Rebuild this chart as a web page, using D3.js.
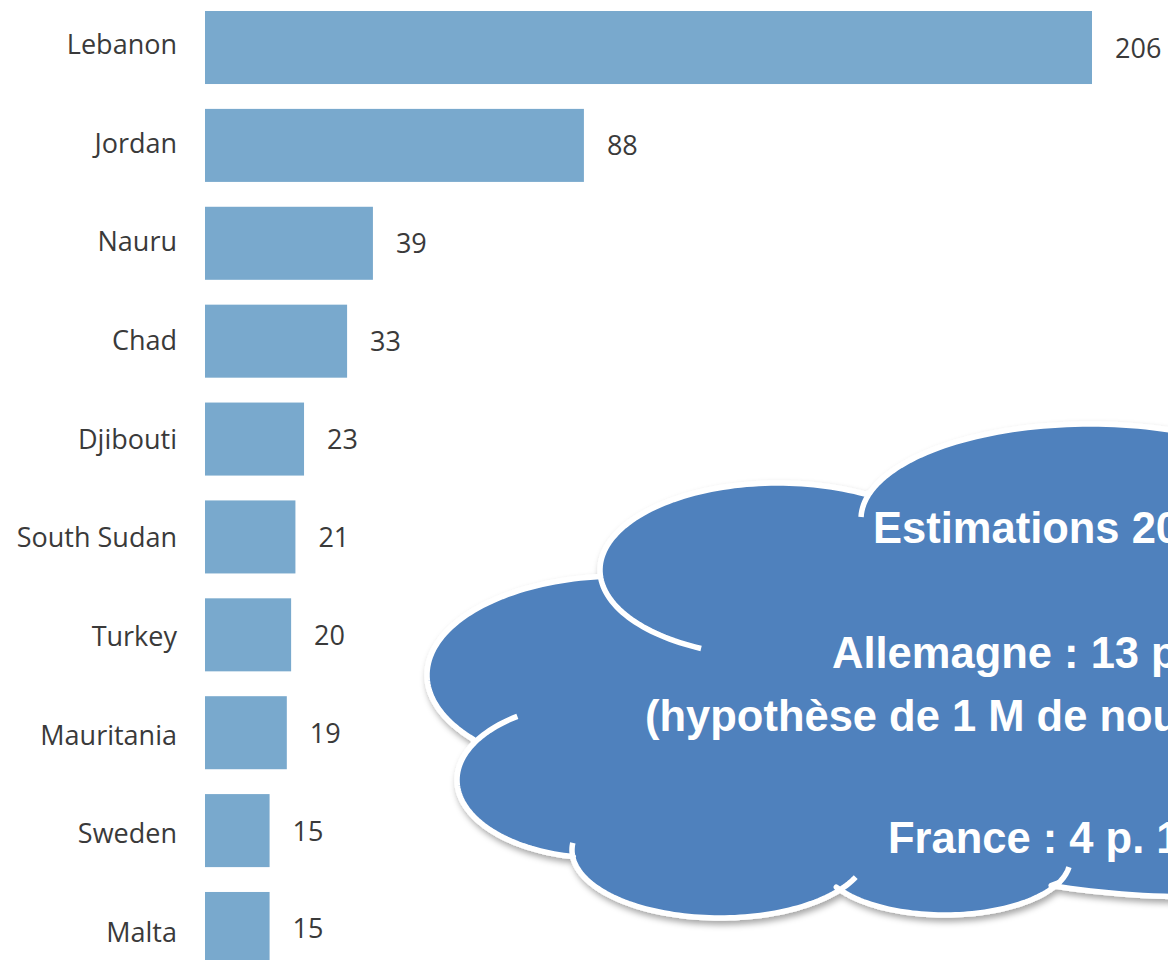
<!DOCTYPE html>
<html><head><meta charset="utf-8">
<script src="https://cdn.jsdelivr.net/npm/d3@7"></script>
<style>body{margin:0;background:#fff;overflow:hidden}</style>
</head><body>
<svg id="chart" width="1168" height="960"></svg>
<script>
// ---- data ----
const categories = ["Lebanon","Jordan","Nauru","Chad","Djibouti","South Sudan","Turkey","Mauritania","Sweden","Malta"];
const values = [206, 88, 39, 33, 23, 21, 20, 19, 15, 15];
const cloudLines = ["Estimations 2015", "Allemagne : 13 p. 1000", "(hypothèse de 1 M de nouveaux réfugiés)", "France : 4 p. 1000"];

// ---- layout ----
const svg = d3.select("#chart");
const barColor = "#79a9cd";
const labelFont = "'Open Sans', sans-serif";

const x = d3.scaleLinear().domain([0, 206]).range([205, 1092]);
const y = d3.scaleBand().domain(categories).range([11, 965]).paddingInner(0.254).paddingOuter(0);
const yLab = d3.scalePoint().domain(categories).range([54, 942]);

const rows = categories.map((c, i) => ({cat: c, val: values[i]}));

svg.append("g").selectAll("rect").data(rows).join("rect")
  .attr("x", x(0)).attr("y", d => y(d.cat))
  .attr("width", d => x(d.val) - x(0)).attr("height", y.bandwidth())
  .attr("fill", barColor);

svg.append("g").selectAll("text").data(rows).join("text")
  .attr("x", 177).attr("y", d => yLab(d.cat))
  .attr("text-anchor", "end")
  .attr("font-family", labelFont).attr("font-size", 27).attr("fill", "#3a3a3a")
  .text(d => d.cat);

svg.append("g").selectAll("text").data(rows).join("text")
  .attr("x", d => x(d.val) + 23).attr("y", d => y(d.cat) + y.bandwidth() / 2 + 10)
  .attr("font-family", labelFont).attr("font-size", 27).attr("fill", "#3a3a3a")
  .text(d => d.val);

// ---- cloud shape (decoration) ----
const defs = svg.append("defs");
const f = defs.append("filter").attr("id", "shadow").attr("x", "-10%").attr("y", "-10%").attr("width", "130%").attr("height", "130%");
f.append("feDropShadow").attr("dx", 2).attr("dy", 4).attr("stdDeviation", 3)
  .attr("flood-color", "#000").attr("flood-opacity", 0.35);

const deg = Math.PI / 180;
function arcPts(e, t0, t1) {
  const n = Math.max(8, Math.ceil(Math.abs(t1 - t0) / 2));
  return d3.range(n + 1).map(i => {
    const t = (t0 + (t1 - t0) * i / n) * deg;
    return [e.cx + e.a * Math.cos(t), e.cy + e.b * Math.sin(t)];
  });
}
const B1 = {cx: 1090, cy: 519, a: 229, b: 95};
const B2 = {cx: 778, cy: 570, a: 178, b: 87};
const B3 = {cx: 620, cy: 675, a: 193, b: 99};
const B4 = {cx: 600, cy: 780, a: 143, b: 78};
const B5 = {cx: 720, cy: 850, a: 148, b: 68};
const B6 = {cx: 945, cy: 860, a: 125, b: 55};
const B7 = {cx: 1200, cy: 800, a: 315, b: 97};

const outline = [].concat(
  arcPts(B2, 176.7, 299.4),
  arcPts(B1, 196.3, 340),
  [[1500, 480], [1500, 800]],
  arcPts(B7, 0, 118.2),
  arcPts(B6, 24.1, 150.4),
  arcPts(B5, 36.2, 174.1),
  arcPts(B4, 100.8, 207.8),
  arcPts(B3, 139.3, 264.1)
);
const line = d3.line().curve(d3.curveLinear);
const cloud = svg.append("g");
cloud.append("path").attr("d", line(outline) + "Z")
  .attr("fill", "#4f81bd").attr("stroke", "#fff").attr("stroke-width", 5.5)
  .attr("stroke-linejoin", "round").attr("filter", "url(#shadow)");

const stubs = [
  arcPts(B1, 181.2, 196.3),
  arcPts(B2, 115.6, 176.7),
  arcPts(B4, 207.8, 234.7),
  arcPts(B5, 174.1, 186),
  arcPts(B5, 23.5, 36.2),
  arcPts(B6, 7.4, 24.1)
];
cloud.append("g").selectAll("path").data(stubs).join("path")
  .attr("d", d => line(d)).attr("fill", "none")
  .attr("stroke", "#fff").attr("stroke-width", 5.5);

const textPos = [[873, 543], [832, 668], [645, 731], [888, 853]];
cloud.append("g").selectAll("text").data(cloudLines).join("text")
  .attr("x", (d, i) => textPos[i][0]).attr("y", (d, i) => textPos[i][1])
  .attr("font-family", "'Liberation Sans', Arial, sans-serif").attr("font-weight", "bold")
  .attr("font-size", 43.5).attr("fill", "#fff")
  .text(d => d);
</script>
</body></html>
